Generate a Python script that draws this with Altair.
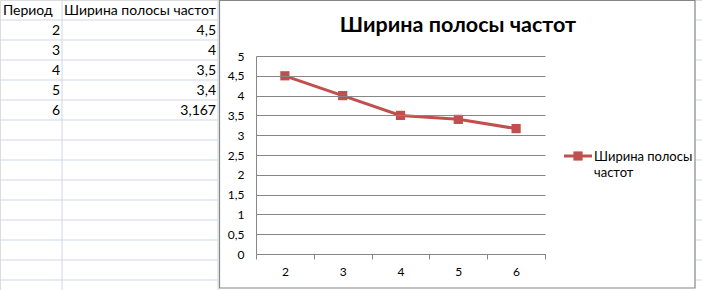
import altair as alt
import pandas as pd

# ---- data ----
periods = [2, 3, 4, 5, 6]
widths = [4.5, 4.0, 3.5, 3.4, 3.167]
header = ["Период", "Ширина полосы частот"]
series_name = "Ширина полосы частот"
title_text = "Ширина полосы частот"
y_ticks = [0, 0.5, 1, 1.5, 2, 2.5, 3, 3.5, 4, 4.5, 5]
sheet_bounds = list(range(1, 15))


def ru(v):
    return f"{v:g}".replace(".", ",")


FONT = "Lato"
RED = "#c0504d"
GRAY = "#868686"
SHEET = "#d0d7e5"
W, H = 702, 290

df = pd.DataFrame({"period": periods, "width": widths})
table_df = pd.DataFrame({
    "row": [i + 1 for i in range(len(periods))],
    "p": [str(p) for p in periods],
    "w": [ru(v) for v in widths],
})
head_df = pd.DataFrame({"row": [0], "h1": [header[0]], "h2": [header[1]]})
bounds_df = pd.DataFrame({"b": sheet_bounds})

row_scale = alt.Scale(domain=[0, 14.5], range=[0, 290], nice=False, zero=False)

# ---- spreadsheet background ----
row_lines_left = alt.Chart(bounds_df).mark_rule(color=SHEET, strokeWidth=1).encode(
    y=alt.Y("b:Q", scale=row_scale, axis=None),
    x=alt.value(0), x2=alt.value(218),
)
row_lines_right = alt.Chart(bounds_df).mark_rule(color=SHEET, strokeWidth=1).encode(
    y=alt.Y("b:Q", scale=row_scale, axis=None),
    x=alt.value(696), x2=alt.value(702),
)
col_lines = alt.Chart(pd.DataFrame({"c": [62, 218]})).mark_rule(color=SHEET, strokeWidth=1).encode(
    x=alt.X("c:Q", scale=alt.Scale(domain=[0, W], range=[0, W], nice=False, zero=False), axis=None),
    y=alt.value(0), y2=alt.value(H),
)

TFS = 14
head1 = alt.Chart(head_df).transform_calculate(yc="datum.row + 0.5").mark_text(
    align="left", baseline="middle", font=FONT, fontSize=TFS, color="black", dy=1
).encode(y=alt.Y("yc:Q", scale=row_scale, axis=None), x=alt.value(3), text="h1:N")
head2 = alt.Chart(head_df).transform_calculate(yc="datum.row + 0.5").mark_text(
    align="left", baseline="middle", font=FONT, fontSize=TFS, color="black", dy=1
).encode(y=alt.Y("yc:Q", scale=row_scale, axis=None), x=alt.value(64), text="h2:N")
col1 = alt.Chart(table_df).transform_calculate(yc="datum.row + 0.5").mark_text(
    align="right", baseline="middle", font=FONT, fontSize=TFS, color="black", dy=1
).encode(y=alt.Y("yc:Q", scale=row_scale, axis=None), x=alt.value(60), text="p:N")
col2 = alt.Chart(table_df).transform_calculate(yc="datum.row + 0.5").mark_text(
    align="right", baseline="middle", font=FONT, fontSize=TFS, color="black", dy=1
).encode(y=alt.Y("yc:Q", scale=row_scale, axis=None), x=alt.value(216), text="w:N")

# ---- chart frame ----
frame = alt.Chart(df).mark_rect(fill="white", stroke=GRAY, strokeWidth=1.2).encode(
    x=alt.value(219.5), x2=alt.value(695), y=alt.value(0.5), y2=alt.value(288)
).transform_filter("datum.period == 2")

# ---- main series ----
main = alt.Chart(df).mark_line(
    color=RED, strokeWidth=3,
    point=alt.OverlayMarkDef(shape="square", size=85, filled=True, color=RED, opacity=1),
).encode(
    x=alt.X(
        "period:O",
        scale=alt.Scale(type="band", range=[256, 545], paddingInner=0, paddingOuter=0),
        axis=alt.Axis(
            title=None, tickBand="extent", offset=-36, labelAngle=0,
            domainColor=GRAY, tickColor=GRAY, tickSize=5, labelPadding=7,
            labelFont=FONT, labelFontSize=12, labelColor="black", grid=False,
            zindex=1,
        ),
    ),
    y=alt.Y(
        "width:Q",
        scale=alt.Scale(domain=[0, 5], range=[254, 56], nice=False, zero=False),
        axis=alt.Axis(
            title=None, values=y_ticks, offset=-256, grid=True, gridColor=GRAY,
            domainColor=GRAY, ticks=False, labelPadding=12,
            labelFont=FONT, labelFontSize=12, labelColor="black",
            format="~g", labelExpr="replace(datum.label, '.', ',')",
            zindex=1,
        ),
    ),
)

# ---- title ----
title = alt.Chart(df).transform_filter("datum.period == 2").mark_text(
    text=title_text, font=FONT, fontSize=21.5, fontWeight="bold", color="black",
    align="center", baseline="middle",
).encode(x=alt.value(458), y=alt.value(26))

# ---- legend ----
leg_df = df.head(1)
leg_line = alt.Chart(leg_df).mark_rule(color=RED, strokeWidth=3).encode(
    x=alt.value(564), x2=alt.value(592), y=alt.value(156)
)
leg_pt = alt.Chart(leg_df).mark_point(shape="square", size=85, filled=True, color=RED, opacity=1).encode(
    x=alt.value(578), y=alt.value(156)
)
leg_text = alt.Chart(leg_df).mark_text(
    text=series_name.rsplit(" ", 1), font=FONT, fontSize=13, color="black",
    align="left", baseline="alphabetic", lineHeight=16,
).encode(x=alt.value(594), y=alt.value(161))

chart = alt.layer(
    row_lines_left, row_lines_right, col_lines, head1, head2, col1, col2,
    frame, main, title, leg_line, leg_pt, leg_text,
).resolve_scale(x="independent", y="independent").properties(
    width=W, height=H, autosize=alt.AutoSizeParams(type="none"), padding=0,
).configure_view(stroke=None).configure(background="white")

chart.save("out.html", embed_options={"renderer": "svg", "actions": False})
